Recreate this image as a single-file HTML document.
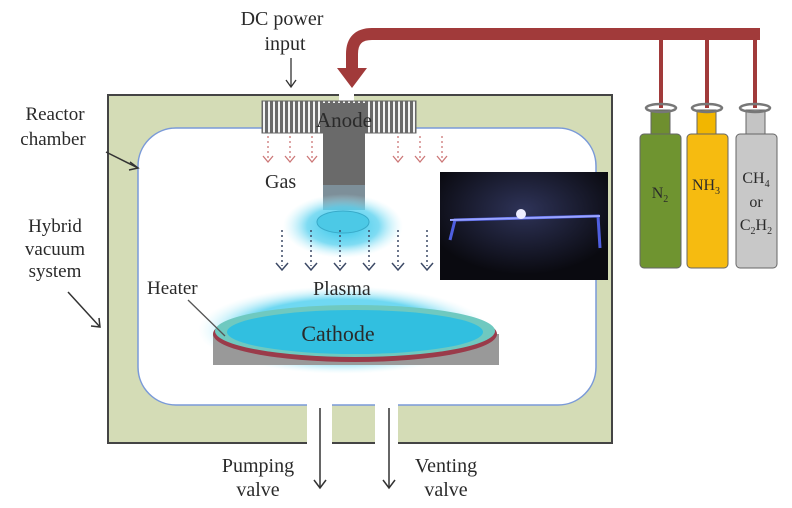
<!DOCTYPE html>
<html><head><meta charset="utf-8"><style>
html,body{margin:0;padding:0;background:#fff}
svg{display:block}
text{font-family:"Liberation Serif",serif;fill:#2a2a2a}
</style></head><body>
<svg width="792" height="508" viewBox="0 0 792 508">
<defs>
<radialGradient id="g1" cx="50%" cy="50%" r="50%"><stop offset="0" stop-color="#2ec4e8"/><stop offset="0.6" stop-color="#5fd3f0" stop-opacity="0.8"/><stop offset="1" stop-color="#bff0fb" stop-opacity="0"/></radialGradient>
<radialGradient id="g2" cx="50%" cy="50%" r="50%"><stop offset="0.7" stop-color="#6fd8f2"/><stop offset="1" stop-color="#d5f5fc" stop-opacity="0"/></radialGradient>
<radialGradient id="ph" cx="50%" cy="35%" r="60%"><stop offset="0" stop-color="#2e3358"/><stop offset="1" stop-color="#0a0a10"/></radialGradient>
<pattern id="st" width="5" height="10" patternUnits="userSpaceOnUse"><rect width="5" height="10" fill="#f4f4f4"/><rect width="3" height="10" fill="#6a6a6a"/></pattern>
</defs>
<rect x="108" y="95" width="504" height="348" fill="#d4dcb6" stroke="#444" stroke-width="2"/>
<rect x="138" y="128" width="458" height="277" rx="38" fill="#fff" stroke="#7a9ad8" stroke-width="1.5"/>
<rect x="307" y="404" width="25" height="42" fill="#fff"/>
<rect x="375" y="404" width="23" height="42" fill="#fff"/>
<rect x="339" y="92" width="15" height="10" fill="#fff"/>
<rect x="262" y="101" width="154" height="32" fill="url(#st)" stroke="#666"/>
<rect x="323" y="103" width="42" height="105" fill="#6a6a6a"/>
<rect x="323" y="185" width="42" height="25" fill="#7d8f99"/>
<text x="344" y="127" font-size="21" text-anchor="middle" fill="#222">Anode</text>
<g stroke="#c77" stroke-width="1.3" fill="none">
<path d="M268 136v24M290 136v24M312 136v24M398 136v24M420 136v24M442 136v24" stroke-dasharray="2 3"/>
<path d="M263 156l5 6 5-6M285 156l5 6 5-6M307 156l5 6 5-6M393 156l5 6 5-6M415 156l5 6 5-6M437 156l5 6 5-6"/>
</g>
<text x="265" y="188" font-size="20">Gas</text>
<ellipse cx="343" cy="226" rx="60" ry="32" fill="url(#g1)"/>
<ellipse cx="343" cy="222" rx="26" ry="11" fill="#4cc9e6" stroke="#38a9c8" stroke-width="1"/>
<g stroke="#3d4a66" stroke-width="1.5" fill="none">
<path d="M282 230v36M311 230v36M340 230v36M369 230v36M398 230v36M427 230v36" stroke-dasharray="2 3"/>
<path d="M276 263l6 7 6-7M305 263l6 7 6-7M334 263l6 7 6-7M363 263l6 7 6-7M392 263l6 7 6-7M421 263l6 7 6-7"/>
</g>
<rect x="440" y="172" width="168" height="108" fill="url(#ph)"/>
<path d="M450 240 L455 220 L598 216 L600 248" stroke="#4f5fe0" stroke-width="3" fill="none"/>
<line x1="450" y1="220" x2="600" y2="216" stroke="#9aa4ff" stroke-width="2"/>
<circle cx="521" cy="214" r="5" fill="#eef"/>
<ellipse cx="343" cy="330" rx="145" ry="44" fill="url(#g2)"/>
<rect x="213" y="334" width="286" height="31" fill="#999"/>
<ellipse cx="355" cy="334" rx="142" ry="28" fill="#9a3b4a"/>
<ellipse cx="355" cy="331" rx="140" ry="26" fill="#6fc9c0"/>
<ellipse cx="355" cy="332" rx="128" ry="22" fill="#31bfe0"/>
<text x="338" y="341" font-size="22" text-anchor="middle" fill="#1e3340">Cathode</text>
<text x="313" y="295" font-size="20" fill="#3a6e90">Plasma</text>
<text x="147" y="294" font-size="19">Heater</text>
<line x1="188" y1="300" x2="225" y2="336" stroke="#555" stroke-width="1.3"/>
<text x="55" y="120" font-size="19" text-anchor="middle">Reactor</text>
<text x="53" y="145" font-size="19" text-anchor="middle">chamber</text>
<line x1="106" y1="152" x2="138" y2="168" stroke="#333" stroke-width="1.5"/>
<path d="M130 162l8 6-9 2" stroke="#333" stroke-width="1.5" fill="none"/>
<text x="55" y="232" font-size="19" text-anchor="middle">Hybrid</text>
<text x="55" y="255" font-size="19" text-anchor="middle">vacuum</text>
<text x="55" y="277" font-size="19" text-anchor="middle">system</text>
<line x1="68" y1="292" x2="100" y2="327" stroke="#333" stroke-width="1.5"/>
<path d="M91 326l9 1-1-9" stroke="#333" stroke-width="1.5" fill="none"/>
<text x="282" y="25" font-size="20" text-anchor="middle">DC power</text>
<text x="285" y="50" font-size="20" text-anchor="middle">input</text>
<line x1="291" y1="58" x2="291" y2="86" stroke="#333" stroke-width="1.3"/>
<path d="M286 80l5 7 5-7" stroke="#333" stroke-width="1.3" fill="none"/>
<path d="M760 34 H372 Q352 34 352 54 V72" stroke="#a13a3a" stroke-width="12" fill="none"/>
<path d="M337 68 H367 L352 88 Z" fill="#a13a3a"/>
<g stroke="#a13a3a" stroke-width="4"><line x1="661" y1="40" x2="661" y2="108"/><line x1="707" y1="40" x2="707" y2="108"/><line x1="755" y1="28" x2="755" y2="108"/></g>
<g stroke="#666" stroke-width="1">
<rect x="651" y="110" width="19" height="32" fill="#6f8f2f"/>
<rect x="640" y="134" width="41" height="134" rx="4" fill="#6f9430"/>
<rect x="697" y="110" width="19" height="32" fill="#f2b600"/>
<rect x="687" y="134" width="41" height="134" rx="4" fill="#f6bb10"/>
<rect x="746" y="110" width="19" height="32" fill="#c4c4c4"/>
<rect x="736" y="134" width="41" height="134" rx="4" fill="#c8c8c8"/>
</g>
<g fill="none" stroke="#777" stroke-width="2.5">
<ellipse cx="661" cy="108" rx="15" ry="4"/><ellipse cx="707" cy="108" rx="15" ry="4"/><ellipse cx="755" cy="108" rx="15" ry="4"/>
</g>
<text x="660" y="198" font-size="16" text-anchor="middle" fill="#222">N<tspan font-size="10" dy="4">2</tspan></text>
<text x="706" y="190" font-size="16" text-anchor="middle" fill="#222">NH<tspan font-size="10" dy="4">3</tspan></text>
<text x="756" y="183" font-size="16" text-anchor="middle" fill="#222">CH<tspan font-size="10" dy="4">4</tspan></text>
<text x="756" y="207" font-size="16" text-anchor="middle" fill="#222">or</text>
<text x="756" y="230" font-size="16" text-anchor="middle" fill="#222">C<tspan font-size="10" dy="4">2</tspan><tspan dy="-4">H</tspan><tspan font-size="10" dy="4">2</tspan></text>
<g stroke="#333" stroke-width="1.5" fill="none">
<line x1="320" y1="408" x2="320" y2="487"/><path d="M314 480l6 8 6-8"/>
<line x1="389" y1="408" x2="389" y2="487"/><path d="M383 480l6 8 6-8"/>
</g>
<text x="258" y="472" font-size="20" text-anchor="middle">Pumping</text>
<text x="258" y="496" font-size="20" text-anchor="middle">valve</text>
<text x="446" y="472" font-size="20" text-anchor="middle">Venting</text>
<text x="446" y="496" font-size="20" text-anchor="middle">valve</text>
</svg>
</body></html>
